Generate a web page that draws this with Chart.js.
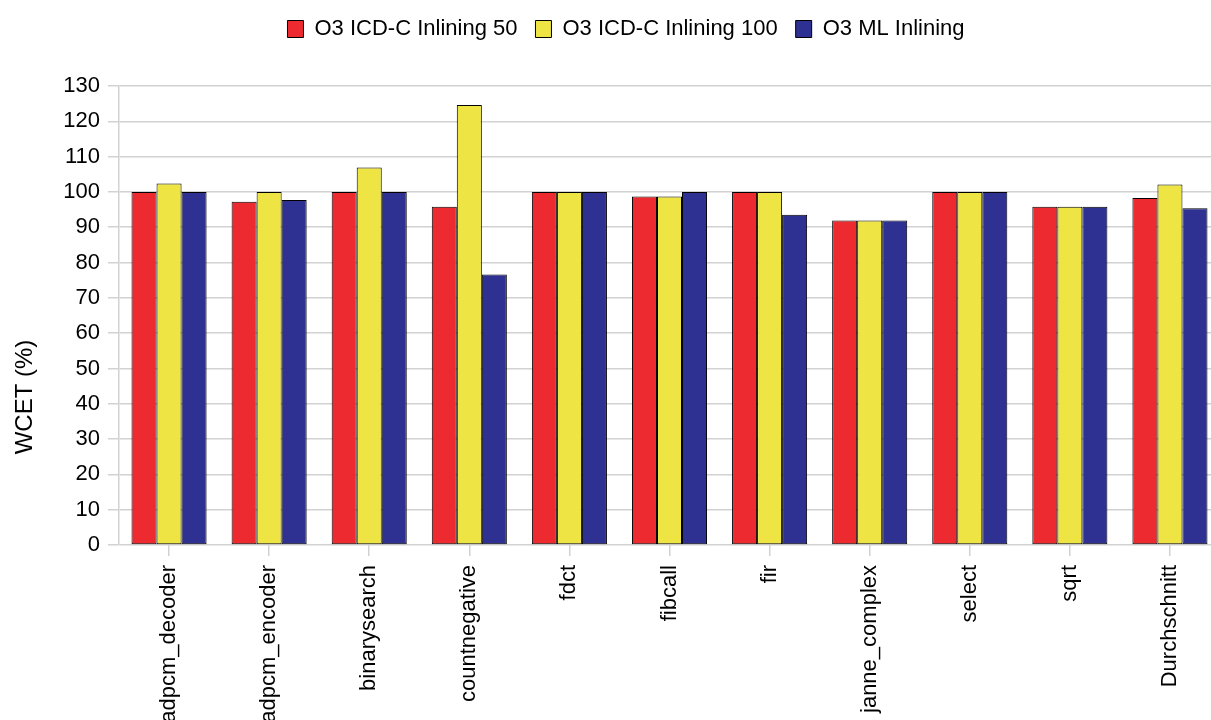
<!DOCTYPE html>
<html>
<head>
<meta charset="utf-8">
<title>WCET</title>
<script src="https://cdn.jsdelivr.net/npm/chart.js@4/dist/chart.umd.min.js"></script>
<style>
  html, body { margin: 0; padding: 0; background: #ffffff; overflow: hidden; }
  #wrap { position: absolute; left: 0; top: 0; width: 1252px; height: 800px; }
</style>
</head>
<body>
<div id="wrap"><canvas id="chart" width="1252" height="800"></canvas></div>
<script>
// Benchmarks (last one is the average)
const categories = [
  'adpcm_decoder', 'adpcm_encoder', 'binarysearch', 'countnegative', 'fdct',
  'fibcall', 'fir', 'janne_complex', 'select', 'sqrt', 'Durchschnitt'
];

// WCET relative to the baseline, in percent
const icdc50  = [100.0,  97.2, 100.0,  95.8, 100.0,  98.7, 100.0, 91.9, 100.0, 95.8,  98.3];
const icdc100 = [102.4, 100.0, 106.9, 124.6, 100.0,  98.7, 100.0, 91.9, 100.0, 95.8, 102.1];
const mlInl   = [100.0,  97.7, 100.0,  76.6, 100.0, 100.0,  93.5, 91.9, 100.0, 95.8,  95.4];

const seriesNames = ['O3 ICD-C Inlining 50', 'O3 ICD-C Inlining 100', 'O3 ML Inlining'];
const yTicks = [0, 10, 20, 30, 40, 50, 60, 70, 80, 90, 100, 110, 120, 130];
const yTitle = 'WCET (%)';

const FONT = "'Liberation Sans', Arial, Helvetica, sans-serif";
const GRID = '#d2d2d2';
const EDGE = '#000000';

// Rotated y-axis caption
const yTitlePlugin = {
  id: 'yTitle',
  afterDraw(chart) {
    const ctx = chart.ctx;
    ctx.save();
    ctx.translate(25, 397);
    ctx.rotate(-Math.PI / 2);
    ctx.font = '24px ' + FONT;
    ctx.fillStyle = '#000000';
    ctx.textAlign = 'center';
    ctx.textBaseline = 'middle';
    ctx.fillText(yTitle, 0, 0);
    ctx.restore();
  }
};

// Extra space between the legend and the plot area
const legendGapPlugin = {
  id: 'legendGap',
  beforeInit(chart) {
    const legend = chart.legend;
    const fit = legend.fit;
    legend.fit = function () {
      fit.call(legend);
      legend.height += 36;
    };
  }
};

const mkSet = (label, data, color) => ({
  label, data,
  backgroundColor: color,
  borderColor: EDGE,
  borderWidth: 1,
  borderSkipped: false,
  categoryPercentage: 0.75,
  barPercentage: 1.0
});

new Chart(document.getElementById('chart'), {
  type: 'bar',
  data: {
    labels: categories,
    datasets: [
      mkSet(seriesNames[0], icdc50,  '#ed2a2f'),
      mkSet(seriesNames[1], icdc100, '#eee443'),
      mkSet(seriesNames[2], mlInl,   '#2e3191')
    ]
  },
  options: {
    responsive: false,
    animation: false,
    devicePixelRatio: 1,
    layout: { padding: { top: 0, left: 0, right: 0, bottom: 0 } },
    plugins: {
      legend: {
        position: 'top',
        labels: {
          font: { family: FONT, size: 22 },
          color: '#000000',
          boxWidth: 16,
          boxHeight: 17,
          padding: 18
        }
      },
      tooltip: { enabled: false }
    },
    scales: {
      x: {
        grid: {
          display: true,
          offset: false,
          drawOnChartArea: false,
          drawTicks: true,
          tickLength: 11,
          color: GRID,
          lineWidth: 1.5
        },
        border: { display: false },
        ticks: {
          font: { family: FONT, size: 22 },
          color: '#000000',
          minRotation: 90,
          maxRotation: 90,
          autoSkip: false,
          padding: 9
        },
        afterFit(scale) { scale.height = 255; }
      },
      y: {
        min: 0,
        max: 130,
        afterBuildTicks(scale) { scale.ticks = yTicks.map(v => ({ value: v })); },
        grid: {
          color: GRID,
          lineWidth: 1.5,
          drawTicks: true,
          tickLength: 11
        },
        border: { display: true, color: GRID, width: 1.5 },
        ticks: {
          font: { family: FONT, size: 22 },
          color: '#000000',
          padding: 8
        },
        afterFit(scale) { scale.width = 119; }
      },
      yPad: {
        type: 'linear',
        position: 'right',
        display: true,
        grid: { display: false, drawTicks: false },
        border: { display: false },
        ticks: { display: false },
        afterFit(scale) { scale.width = 32; }
      }
    }
  },
  plugins: [yTitlePlugin, legendGapPlugin]
});
</script>
</body>
</html>
